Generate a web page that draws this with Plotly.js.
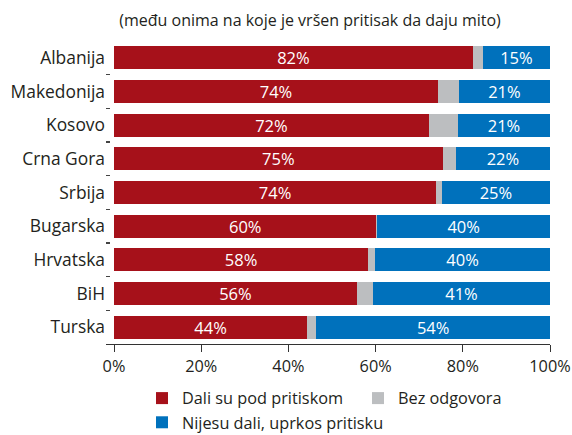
<!DOCTYPE html>
<html>
<head>
<meta charset="utf-8">
<script src="https://cdn.plot.ly/plotly-3.0.1.min.js"></script>
<style>html,body{margin:0;padding:0;background:#fff;}#chart{width:572px;height:435px;}</style>
</head>
<body>
<div id="chart"></div>
<script>
const countries = ['Albanija','Makedonija','Kosovo','Crna Gora','Srbija','Bugarska','Hrvatska','BiH','Turska'];
const dali = [82.3, 74.3, 72.2, 75.4, 73.9, 60.2, 58.3, 55.7, 44.3];
const bez = [2.3, 4.8, 6.7, 3.0, 1.3, 0.2, 1.6, 3.7, 2.1];
const nijesu = [15.4, 20.9, 21.1, 21.6, 24.8, 39.6, 40.1, 40.6, 53.6];
const seriesNames = ['Dali su pod pritiskom', 'Bez odgovora', 'Nijesu dali, uprkos pritisku'];
const xTickVals = [0, 20, 40, 60, 80, 100];
const xTickText = ['0%', '20%', '40%', '60%', '80%', '100%'];
const titleText = '(među onima na koje je vršen pritisak da daju mito)';

const FONT = 'Open Sans, Noto Sans, sans-serif';
const DARK = '#231f20';

function bar(vals, name, color, withText) {
  return {
    type: 'bar', orientation: 'h', y: countries, x: vals, name: name,
    marker: {color: color, line: {width: 0}},
    text: withText ? vals : undefined,
    texttemplate: withText ? '%{x:.0f}%' : undefined,
    textposition: withText ? 'inside' : 'none',
    insidetextanchor: 'middle',
    textangle: 0,
    constraintext: 'none',
    insidetextfont: {color: '#ffffff', size: 16.5, family: FONT},
    hoverinfo: 'skip'
  };
}

const data = [
  bar(dali, seriesNames[0], '#a6111a', true),
  bar(bez, seriesNames[1], '#bcbec0', false),
  bar(nijesu, seriesNames[2], '#0071bc', true)
];

const layout = {
  width: 572, height: 435,
  margin: {l: 106, r: 22, t: 41, b: 91, pad: 0},
  barmode: 'stack',
  bargap: 0.317,
  paper_bgcolor: '#ffffff', plot_bgcolor: '#ffffff',
  font: {family: FONT, color: DARK, size: 16},
  title: {text: titleText, font: {size: 16, color: DARK, family: FONT},
          x: 0.542, xref: 'container', xanchor: 'center', y: 0.952, yref: 'container', yanchor: 'middle'},
  xaxis: {
    range: [-1.835, 100], tickvals: xTickVals, ticktext: xTickText,
    showgrid: false, zeroline: false, showline: true, linecolor: '#333333', linewidth: 1,
    ticks: 'outside', ticklen: 7, tickwidth: 1, tickcolor: '#333333',
    tickfont: {size: 16.3, color: DARK, family: FONT}, fixedrange: true
  },
  yaxis: {
    autorange: 'reversed', showgrid: false, zeroline: false, showline: false,
    ticks: 'inside', tickson: 'boundaries', ticklen: 4, tickwidth: 1.5, tickcolor: '#444444',
    ticklabelstandoff: 0,
    tickfont: {size: 17.4, color: DARK, family: FONT}, fixedrange: true
  },
  showlegend: true,
  legend: {
    orientation: 'h', x: 142/572, xanchor: 'left', xref: 'container', y: 1 - 381/435, yref: 'container', yanchor: 'top',
    font: {size: 16.3, color: DARK, family: FONT}, traceorder: 'normal',
    entrywidth: 171, entrywidthmode: 'pixels', bgcolor: 'rgba(0,0,0,0)'
  }
};

Plotly.newPlot('chart', data, layout, {displayModeBar: false, staticPlot: true});
</script>
</body>
</html>
